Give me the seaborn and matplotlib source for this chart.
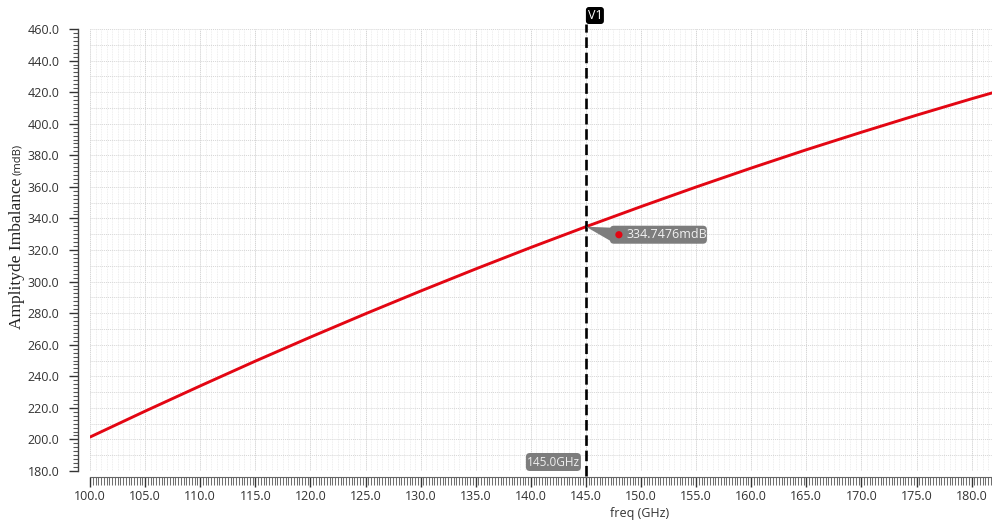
import numpy as np
import pandas as pd
import seaborn as sns
import matplotlib
matplotlib.use("Agg")
import matplotlib.pyplot as plt
from matplotlib.ticker import MultipleLocator, FormatStrFormatter
from matplotlib.patches import Polygon, FancyBboxPatch, Circle
from matplotlib.transforms import IdentityTransform

# Amplitude imbalance vs. frequency
freq_ghz = [100, 105, 110, 115, 120, 125, 130, 135, 140, 145, 150, 155,
            160, 165, 170, 175, 180, 181.85]
imbalance_mdb = [201.5, 217.9, 233.9, 249.6, 264.8, 279.6, 294.0, 308.0,
                 321.6, 334.7476, 347.5, 359.9, 371.9, 383.5, 394.6, 405.4,
                 415.8, 419.5]

marker_freq = 145.0
marker_value = 334.7476
marker_name = "V1"
marker_freq_label = "145.0GHz"
marker_value_label = "334.7476mdB"

sns.set_theme(style="white")
plt.rcParams["font.family"] = ["Open Sans", "DejaVu Sans"]

df = pd.DataFrame({"freq": freq_ghz, "imb": imbalance_mdb})

W, H = 992, 524
fig = plt.figure(figsize=(W / 100, H / 100), dpi=100)
ax = fig.add_axes([90 / W, (H - 471) / H, (W - 90) / W, 442 / H])

# dotted background grid
for x in np.arange(100, 182, 0.5):
    ax.axvline(x, color="#e9e9e9", lw=0.6, ls=(0, (1, 1)), zorder=0)
for x in np.arange(100, 182, 5):
    ax.axvline(x, color="#d4d4d4", lw=0.7, ls=(0, (1, 1)), zorder=0)
for y in np.arange(180, 461, 10):
    ax.axhline(y, color="#d6d6d6", lw=0.7, ls=(0, (1, 1)), zorder=0)

sns.lineplot(data=df, x="freq", y="imb", color="#e30613", lw=2.1, ax=ax,
             zorder=3)

ax.set_xlim(100, 181.85)
ax.set_ylim(180, 460)

ax.xaxis.set_major_locator(MultipleLocator(5))
ax.xaxis.set_minor_locator(MultipleLocator(0.25))
ax.yaxis.set_major_locator(MultipleLocator(20))
ax.yaxis.set_minor_locator(MultipleLocator(2.5))
ax.xaxis.set_major_formatter(FormatStrFormatter("%.1f"))
ax.yaxis.set_major_formatter(FormatStrFormatter("%.1f"))

for s in ["top", "right"]:
    ax.spines[s].set_visible(False)
ax.spines["left"].set_position(("outward", 9))
ax.spines["bottom"].set_position(("outward", 4))
ax.spines["left"].set_color("#444444")
ax.spines["bottom"].set_color("#666666")
ax.spines["left"].set_linewidth(1.0)
ax.spines["bottom"].set_linewidth(0.8)

ax.tick_params(axis="both", which="major", labelsize=9, colors="#333333",
               labelcolor="#333333", direction="out")
ax.tick_params(axis="x", which="major", length=7, width=1.0, pad=2.5,
               bottom=True)
ax.tick_params(axis="x", which="minor", length=5.5, width=0.75,
               colors="#6f6f6f", bottom=True)
ax.tick_params(axis="y", which="major", length=6.5, width=1.0, pad=6.5,
               left=True)
ax.tick_params(axis="y", which="minor", length=3.5, width=0.8,
               colors="#555555", left=True)

ax.set_xlabel("")
ax.set_ylabel("")
fig.text(640 / W, 1 - 514 / H, "freq (GHz)", ha="center", va="center",
         fontsize=9, color="#333333")
fig.text(17 / W, 1 - 329 / H, "Amplityde Imbalance", rotation=90,
         ha="center", va="bottom", fontsize=12.5, color="#222222",
         family=["Liberation Serif", "DejaVu Serif"])
fig.text(18 / W, 1 - 175 / H, "(mdB)", rotation=90, ha="center",
         va="bottom", fontsize=8, color="#222222")

# vertical marker line
ax.axvline(marker_freq, ymin=-5 / 442, ymax=1 + 5 / 442, color="black",
           lw=1.9, ls=(0, (4, 1.8)), clip_on=False, zorder=5)

# callouts placed in pixel space around the marker position
ident = IdentityTransform()
lx, _ = ax.transData.transform((marker_freq, 180))
top_y = ax.transAxes.transform((0, 1))[1]
bot_y = ax.transAxes.transform((0, 0))[1]
px, py = ax.transData.transform((marker_freq, marker_value))


def rbox(x0, y0, w, h, color, r=4):
    fig.patches.append(FancyBboxPatch(
        (x0, y0), w, h, boxstyle=f"round,pad=0,rounding_size={r}",
        fc=color, ec="none", transform=ident, figure=fig, zorder=10))


# marker name tag above the plot
rbox(lx, top_y + 5, 18, 17, "black", r=3)
fig.text(lx + 9, top_y + 13.5, marker_name, transform=ident, ha="center",
         va="center", fontsize=9, color="white", zorder=11)

# frequency tag at the bottom
rbox(lx - 60, bot_y + 0, 55, 18, "#7d7d7d", r=4)
fig.text(lx - 32.5, bot_y + 9, marker_freq_label, transform=ident,
         ha="center", va="center", fontsize=8.5, color="#eeeeee", zorder=11)

# value callout with pointer
fig.patches.append(Polygon([(px, py), (px + 26, py - 1), (px + 26, py - 15)],
                           closed=True, fc="#7d7d7d", ec="none",
                           transform=ident, figure=fig, zorder=10))
rbox(px + 24, py - 17, 97, 18, "#7d7d7d", r=4)
fig.patches.append(Circle((px + 33, py - 8), 3.6, fc="#e30613", ec="none",
                          transform=ident, figure=fig, zorder=11))
fig.text(px + 41, py - 8, marker_value_label, transform=ident, ha="left",
         va="center", fontsize=9, color="#f2f2f2", zorder=11)

fig.savefig("out.png", dpi=100)
